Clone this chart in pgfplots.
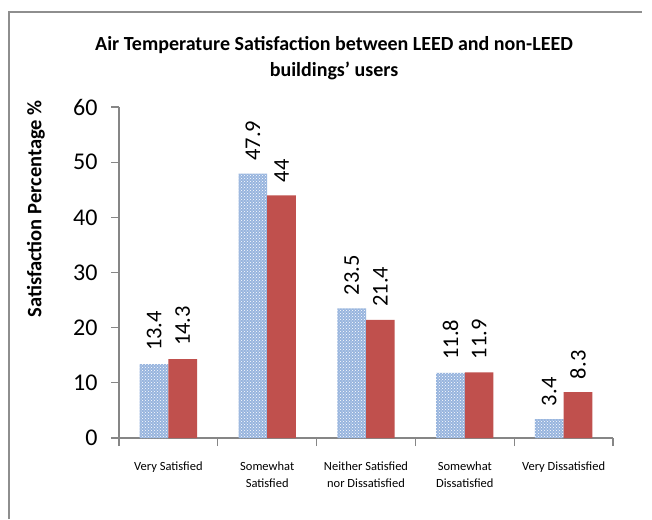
\documentclass[border=0pt]{standalone}
\usepackage{pgfplots}
\pgfplotsset{compat=1.18}
\usepackage{fontspec}
\setmainfont{Carlito}
\usetikzlibrary{patterns}

\definecolor{leedblue}{HTML}{97B4DE}
\definecolor{nonred}{HTML}{C0504D}
\definecolor{axisgray}{HTML}{868686}
\definecolor{framegray}{HTML}{8E8E8E}

\begin{document}
\begin{tikzpicture}
\useasboundingbox (0,0) rectangle (652pt,519pt);
\fill[white] (0,0) rectangle (652pt,519pt);
\draw[framegray, line width=2pt] (9pt,0) -- (9pt,507pt) -- (642pt,507pt);
\node[font=\fontsize{20}{26}\selectfont\bfseries, align=center] at (334pt,461pt)
  {Air Temperature Satisfaction between LEED and non-LEED\\buildings' users};
\node[font=\fontsize{20.5}{22}\selectfont\bfseries, rotate=90] at (36pt,310pt)
  {Satisfaction Percentage \%};
\begin{axis}[
  at={(119pt,81pt)}, anchor=south west,
  scale only axis, width=494pt, height=331pt,
  xmin=-0.5, xmax=4.5, ymin=0, ymax=60,
  ybar, bar width=0.29,
  axis x line*=bottom, axis y line*=left,
  axis line style={axisgray, line width=1.5pt, -},
  tick style={axisgray, line width=1.2pt},
  tick align=outside, major tick length=8pt,
  ytick={0,10,...,60},
  xtick={-0.5,0.5,...,4.5},
  x tick label as interval,
  xticklabels={Very Satisfied, {Somewhat\\Satisfied}, {Neither Satisfied\\nor Dissatisfied}, {Somewhat\\Dissatisfied}, Very Dissatisfied},
  xticklabel style={align=center, font=\fontsize{12.5}{17}\selectfont, yshift=-12pt},
  yticklabel style={font=\fontsize{24}{24}\selectfont, xshift=-10pt},
  /pgf/number format/assume math mode=true,
  nodes near coords,
  every node near coord/.append style={rotate=90, anchor=west, black,
    inner xsep=13pt,
    font=\fontsize{22.5}{23}\selectfont, /pgf/number format/assume math mode=true},
]
\addplot[fill=leedblue, draw=none, bar shift=-0.145,
  postaction={pattern=crosshatch dots, pattern color=white}]
  coordinates {(0,13.4) (1,47.9) (2,23.5) (3,11.8) (4,3.4)};
\addplot[fill=nonred, draw=none, bar shift=0.145]
  coordinates {(0,14.3) (1,44) (2,21.4) (3,11.9) (4,8.3)};
\end{axis}
\end{tikzpicture}
\end{document}
